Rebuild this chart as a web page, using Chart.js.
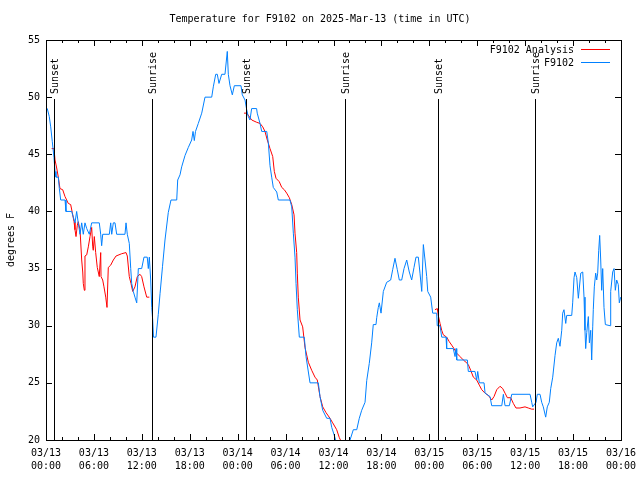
<!DOCTYPE html>
<html lang="en">
<head>
<meta charset="UTF-8">
<title>Temperature for F9102</title>
<script src="https://cdn.jsdelivr.net/npm/chart.js@4.4.1/dist/chart.umd.min.js"></script>
<style>
  body { margin: 0; background: #fff; }
  #wrap { width: 640px; height: 480px; }
</style>
</head>
<body>
<div id="wrap"><canvas id="tempChart" width="640" height="480"></canvas></div>
<script>
// hours since 03/13 00:00 UTC
const obsHours = [0, 0.16, 0.41, 0.59, 0.79, 1.00, 1.13, 1.25, 1.54, 1.67, 1.84, 2.38, 2.50, 3.22, 3.42, 3.63, 3.84, 4.04, 4.26, 4.47, 4.67, 4.88, 5.10, 5.42, 5.72, 6.67, 6.85, 6.97, 7.10, 7.93, 8.10, 8.23, 8.43, 8.64, 8.85, 9.89, 10.02, 10.18, 10.43, 10.61, 10.73, 10.93, 11.14, 11.36, 11.56, 11.98, 12.27, 12.68, 12.81, 12.94, 13.11, 13.24, 13.36, 13.46, 13.77, 14.06, 14.28, 14.59, 14.90, 15.31, 15.65, 16.37, 16.49, 16.78, 16.99, 17.41, 17.82, 18.24, 18.41, 18.57, 18.72, 19.07, 19.50, 19.91, 20.75, 20.95, 21.25, 21.45, 21.66, 22.00, 22.41, 22.70, 22.83, 23.04, 23.33, 23.58, 24.42, 24.58, 24.92, 25.13, 25.33, 25.54, 25.75, 26.37, 26.45, 26.80, 27.01, 27.64, 27.84, 28.05, 28.26, 28.46, 28.89, 29.09, 30.55, 30.77, 30.97, 31.18, 31.31, 31.47, 31.72, 32.34, 32.56, 33.06, 34.10, 34.31, 34.65, 35.15, 35.56, 35.78, 36.19, 36.44, 37.07, 37.82, 38.07, 38.48, 38.91, 39.23, 39.53, 39.95, 40.16, 40.48, 40.78, 40.98, 41.32, 41.41, 41.61, 41.74, 41.95, 42.24, 42.66, 43.16, 43.41, 43.70, 43.99, 44.24, 44.54, 44.83, 45.17, 45.49, 45.79, 46.08, 46.33, 46.62, 46.83, 47.05, 47.25, 47.46, 47.67, 47.80, 48.17, 48.42, 48.92, 48.99, 49.34, 49.55, 50.09, 50.17, 51.00, 51.22, 51.34, 51.43, 52.76, 52.88, 53.72, 53.93, 54.06, 54.26, 54.85, 54.98, 55.60, 55.81, 57.07, 57.27, 57.48, 58.02, 58.32, 60.61, 60.82, 60.94, 61.36, 61.52, 61.86, 62.07, 62.27, 62.57, 62.77, 63.02, 63.20, 63.45, 63.74, 63.95, 64.15, 64.36, 64.58, 64.70, 64.86, 65.08, 65.20, 65.83, 65.95, 66.12, 66.24, 66.46, 66.66, 66.96, 67.21, 67.37, 67.49, 67.58, 67.71, 67.91, 68.04, 68.21, 68.33, 68.46, 68.53, 68.66, 68.83, 68.96, 69.08, 69.21, 69.33, 69.46, 69.58, 69.71, 69.87, 70.04, 70.63, 70.71, 70.96, 71.13, 71.29, 71.46, 71.66, 71.79, 71.96];
const obsTemps = [49, 49, 48.3, 47.4, 46.1, 44.7, 43.5, 43, 43, 42, 41, 41, 40, 40, 39.5, 39, 40, 39, 38, 39, 38, 39, 38.5, 38, 39, 39, 38, 37, 38, 38, 39, 38, 39, 39, 38, 38, 39, 38, 37.2, 35, 33.7, 33, 32.5, 32, 35, 35, 36, 36, 35, 36, 34, 31.6, 30.5, 29, 29, 31, 32.8, 35.2, 37.5, 39.9, 41, 41, 42.75, 43.2, 43.9, 44.9, 45.6, 46.25, 47, 46.2, 47, 47.7, 48.6, 50, 50, 50.9, 52, 52, 51.2, 52, 52, 54, 52, 51, 50.2, 51, 51, 50.2, 49.75, 48.9, 48.3, 48, 49, 49, 48.6, 47.7, 47, 47, 46, 44, 43, 42.1, 41.7, 41, 41, 40.4, 38.1, 36, 33.7, 31.4, 29, 29, 27.3, 25, 25, 23.8, 22.6, 21.9, 21.9, 21.1, 20.2, 19.5, 19, 19.5, 20, 20.9, 20.9, 21.9, 22.6, 23.3, 25.2, 26.7, 28.5, 30.1, 30.1, 30.7, 31.6, 32, 31.1, 33, 33.8, 34, 34.9, 35.9, 34.9, 34, 34, 35, 35.75, 34.7, 34, 35.1, 36, 36, 34.6, 33, 37.1, 35.75, 34.3, 33, 32.5, 31.1, 31.1, 30, 30, 29, 29, 28, 28, 27.3, 28, 27, 27, 26, 26, 25.25, 26, 25, 25, 24.1, 23.8, 23, 23, 24, 23, 23, 24, 24, 23.3, 22.9, 23.3, 24, 24, 23.3, 22.9, 22, 22.9, 23.3, 24.5, 25.5, 27.4, 28.5, 28.9, 28.2, 29.6, 31.1, 31.4, 30.2, 30.9, 30.9, 32, 34.2, 34.7, 34.2, 32.4, 34.6, 34.7, 32.5, 29.6, 28, 29.4, 30.8, 28.5, 29.6, 27, 29.9, 31.4, 33.4, 34.6, 34, 34.6, 36.6, 37.9, 35.75, 33.1, 35, 31.6, 30.1, 30, 33, 34.7, 35, 33.1, 34, 33.6, 32, 32.5];

const anaHours = [0.71, 1.00, 1.13, 1.34, 1.54, 1.75, 2.09, 2.38, 2.79, 3.09, 3.29, 3.51, 3.63, 3.76, 3.92, 4.04, 4.26, 4.47, 4.60, 4.67, 4.80, 4.88, 5.10, 5.30, 5.51, 5.72, 5.85, 5.92, 6.05, 6.22, 6.42, 6.67, 6.85, 6.89, 7.10, 7.26, 7.48, 7.64, 7.80, 8.10, 8.43, 8.77, 9.48, 10.02, 10.18, 10.43, 10.64, 10.86, 11.14, 11.43, 11.77, 11.98, 12.27, 12.61, 12.94,
  18.0,
  24.79, 25.13, 25.76, 26.38, 26.80, 27.14, 27.42, 27.71, 28.05, 28.39, 28.59, 28.80, 29.21, 29.52, 29.84, 30.14, 30.47, 30.77, 31.06, 31.18, 31.39, 31.47, 31.59, 31.81, 32.14, 32.43, 32.85, 33.27, 33.68, 33.97, 34.31, 34.65, 35.06, 35.56, 35.90, 36.40, 36.73, 36.94,
  42.0,
  48.71, 49.00, 49.12, 49.34, 49.55, 49.75, 50.17, 50.50, 50.80, 51.09, 51.43, 51.84, 52.26, 52.59, 52.88, 53.18, 53.51, 53.93, 54.26, 54.56, 54.97, 55.39, 55.60, 55.81, 56.10, 56.44, 56.85, 57.19, 57.48, 57.77, 58.19, 58.52, 58.85, 59.35, 59.98, 60.39, 60.82, 61.11];
const anaTemps = [45.5, 45.5, 44.5, 43.8, 43, 42, 41.9, 41.3, 40.7, 40.6, 39.9, 39.1, 38.4, 37.8, 38.8, 39.1, 38.4, 35.75, 34.7, 33.7, 33.1, 36.1, 36.2, 36.9, 37.8, 38.6, 36.9, 36.6, 37.8, 36.4, 35.1, 34.3, 36.4, 34.3, 34, 33.4, 32.5, 31.6, 35.1, 35.3, 35.75, 36.1, 36.3, 36.4, 36.1, 34.3, 33.7, 33, 33.4, 34.3, 34.5, 34.3, 33.4, 32.5, 32.5,
  null,
  48.6, 48.6, 48, 47.8, 47.7, 47.4, 47, 46.25, 45.5, 44.8, 43.5, 42.9, 42.6, 42.1, 41.9, 41.6, 41.2, 40.6, 39.7, 38.1, 36.4, 34.6, 32.5, 30.5, 29.9, 28.1, 26.8, 26.1, 25.5, 25.25, 23.8, 22.9, 22.4, 21.9, 21.5, 20.9, 20.2, 19.9,
  null,
  31.4, 31.5, 30.9, 30.2, 29.6, 29.2, 29, 28.6, 28.3, 28, 27.6, 27.3, 27, 26.8, 26.6, 26.1, 25.5, 25.25, 24.8, 24.4, 24.1, 23.9, 23.7, 23.5, 23.8, 24.4, 24.7, 24.5, 24.1, 23.7, 23.7, 23.2, 22.8, 22.8, 22.9, 22.8, 22.7, 22.7];

const sunHours = [1.0, 13.27, 25.04, 37.44, 49.09, 61.23];
const sunLabels = ['Sunset', 'Sunrise', 'Sunset', 'Sunrise', 'Sunset', 'Sunrise'];
const dayLabels = ['03/13', '03/14', '03/15', '03/16'];
const yTicks = [20, 25, 30, 35, 40, 45, 50, 55];

const FONT = "'DejaVu Sans Mono', 'Liberation Mono', monospace";
const RED = 'rgb(255,0,0)';
const BLUE = 'rgb(0,128,255)';

function pairs(xs, ys) {
  return xs.map((x, i) => ({ x: x, y: ys[i] }));
}

// gnuplot style frame, inward ticks, sun markers and legend
const gnuplotDecor = {
  id: 'gnuplotDecor',
  afterDatasetsDraw(chart) {
    const ctx = chart.ctx;
    const a = chart.chartArea;
    const xs = chart.scales.x, ys = chart.scales.y;
    ctx.save();
    ctx.strokeStyle = '#000';
    ctx.lineWidth = 1;
    ctx.fillStyle = '#000';

    // sunrise / sunset lines
    ctx.font = '10px ' + FONT;
    sunHours.forEach((h, i) => {
      const px = Math.round(xs.getPixelForValue(h)) + 0.5;
      ctx.beginPath();
      ctx.moveTo(px, 99);
      ctx.lineTo(px, a.bottom);
      ctx.stroke();
      ctx.save();
      ctx.translate(px + 1, 94);
      ctx.rotate(-Math.PI / 2);
      ctx.textAlign = 'left';
      ctx.textBaseline = 'middle';
      ctx.fillText(sunLabels[i], 0, 0);
      ctx.restore();
    });

    // border
    ctx.strokeRect(Math.round(a.left) + 0.5, Math.round(a.top) + 0.5,
      Math.round(a.right - a.left), Math.round(a.bottom - a.top));

    // x ticks every 2 h, major every 6 h
    ctx.beginPath();
    for (let h = 0; h <= 72; h += 2) {
      const px = Math.round(xs.getPixelForValue(h)) + 0.5;
      const len = h % 6 === 0 ? 6 : 3;
      ctx.moveTo(px, a.bottom); ctx.lineTo(px, a.bottom - len);
      ctx.moveTo(px, a.top); ctx.lineTo(px, a.top + len);
    }
    yTicks.forEach(v => {
      const py = Math.round(ys.getPixelForValue(v)) + 0.5;
      ctx.moveTo(a.left, py); ctx.lineTo(a.left + 6, py);
      ctx.moveTo(a.right, py); ctx.lineTo(a.right - 6, py);
    });
    ctx.stroke();

    // legend
    const items = [
      { text: 'F9102 Analysis', color: RED, y: 50 },
      { text: 'F9102', color: BLUE, y: 63 }
    ];
    ctx.textAlign = 'right';
    ctx.textBaseline = 'middle';
    items.forEach(it => {
      ctx.fillStyle = '#000';
      ctx.fillText(it.text, 574, it.y);
      ctx.strokeStyle = it.color;
      ctx.beginPath();
      ctx.moveTo(581, it.y - 0.5);
      ctx.lineTo(610, it.y - 0.5);
      ctx.stroke();
    });

    // title and y axis label
    ctx.fillStyle = '#000';
    ctx.textAlign = 'center';
    ctx.fillText('Temperature for F9102 on 2025-Mar-13 (time in UTC)', 320, 19);
    ctx.save();
    ctx.translate(11, (a.top + a.bottom) / 2);
    ctx.rotate(-Math.PI / 2);
    ctx.fillText('degrees F', 0, 0);
    ctx.restore();

    ctx.restore();
  }
};

new Chart(document.getElementById('tempChart'), {
  type: 'line',
  data: {
    datasets: [
      {
        label: 'F9102',
        data: pairs(obsHours, obsTemps),
        borderColor: BLUE,
        borderWidth: 1,
        pointRadius: 0,
        tension: 0,
        order: 0
      },
      {
        label: 'F9102 Analysis',
        data: pairs(anaHours, anaTemps),
        borderColor: RED,
        borderWidth: 1,
        pointRadius: 0,
        tension: 0,
        spanGaps: false,
        order: 1
      }
    ]
  },
  options: {
    responsive: false,
    animation: false,
    layout: { padding: { top: 40, right: 19, left: 0, bottom: 0 } },
    plugins: {
      legend: { display: false },
      tooltip: { enabled: false }
    },
    scales: {
      x: {
        type: 'linear',
        min: 0,
        max: 72,
        grid: { display: false, drawTicks: false },
        border: { display: false },
        afterFit: s => { s.height = 40; s.paddingLeft = 0; s.paddingRight = 0; },
        ticks: {
          stepSize: 6,
          maxRotation: 0,
          autoSkip: false,
          padding: 7,
          color: '#000',
          font: { family: FONT, size: 10, lineHeight: 1.3 },
          callback: v => {
            const day = dayLabels[Math.floor(v / 24)];
            const hr = String(v % 24).padStart(2, '0') + ':00';
            return [day, hr];
          }
        }
      },
      y: {
        min: 20,
        max: 55,
        grid: { display: false, drawTicks: false },
        border: { display: false },
        afterFit: s => { s.width = 46; s.paddingTop = 0; s.paddingBottom = 0; },
        ticks: {
          stepSize: 5,
          padding: 6,
          color: '#000',
          font: { family: FONT, size: 10 }
        }
      }
    }
  },
  plugins: [gnuplotDecor]
});
</script>
</body>
</html>
